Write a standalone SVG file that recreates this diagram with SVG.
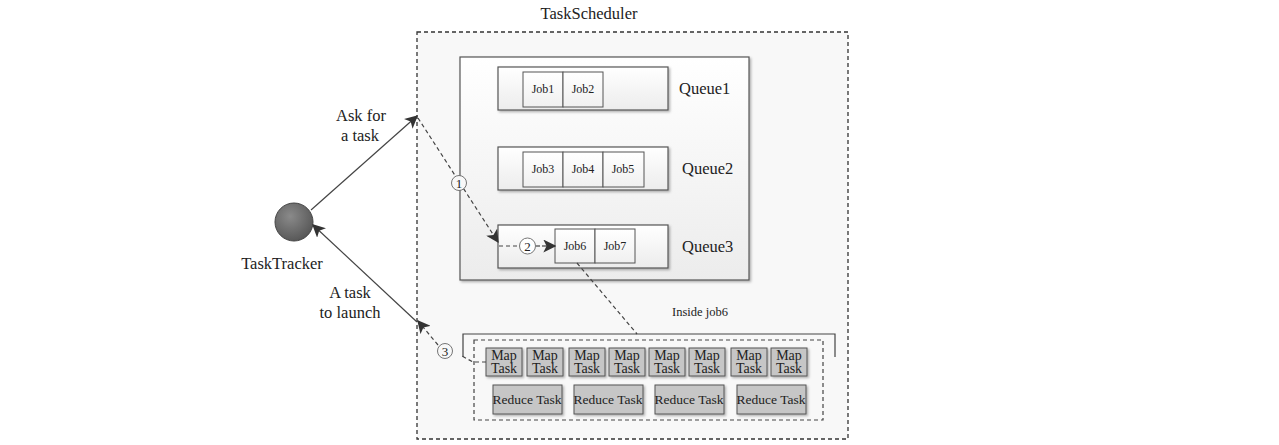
<svg xmlns="http://www.w3.org/2000/svg" width="1279" height="445" viewBox="0 0 1279 445">
<defs>
<linearGradient id="gbox" x1="0" y1="0" x2="0" y2="1">
<stop offset="0" stop-color="#ffffff"/><stop offset="1" stop-color="#ececec"/>
</linearGradient>
<linearGradient id="gjob" x1="0" y1="0" x2="0" y2="1">
<stop offset="0" stop-color="#ffffff"/><stop offset="1" stop-color="#f0f0f0"/>
</linearGradient>
<radialGradient id="gball" cx="0.4" cy="0.35" r="0.7">
<stop offset="0" stop-color="#8a8a8a"/><stop offset="1" stop-color="#555555"/>
</radialGradient>
<marker id="ahs" viewBox="0 0 10 10" refX="9" refY="5" markerWidth="13" markerHeight="13" markerUnits="userSpaceOnUse" orient="auto">
<path d="M0,0 L10,5 L0,10 L2.5,5 z" fill="#333"/>
</marker>
<filter id="sh" x="-10%" y="-10%" width="130%" height="130%">
<feDropShadow dx="1.5" dy="1.5" stdDeviation="0.8" flood-color="#000" flood-opacity="0.3"/>
</filter>
</defs>
<style>
text{font-family:"Liberation Serif","Times New Roman",serif;fill:#222}
.box{fill:url(#gbox);stroke:#555;stroke-width:1.2}
.job{fill:url(#gjob);stroke:#555;stroke-width:1}
.task{fill:#c6c6c6;stroke:#555;stroke-width:1;filter:url(#sh)}
.dash{fill:none;stroke:#444;stroke-width:1.2;stroke-dasharray:4,3}
.solid{fill:none;stroke:#444;stroke-width:1.2}
.jt{font-size:12px;text-anchor:middle}
.qt{font-size:16.5px}
.tt{font-size:14px;text-anchor:middle}
.rt{font-size:13.5px;text-anchor:middle}
.lbl{font-size:16.5px;text-anchor:middle}
.num{font-size:13px;text-anchor:middle}
</style>
<rect width="1279" height="445" fill="#ffffff"/>

<g id="taskscheduler">
<rect x="417" y="32" width="431" height="407" fill="#f8f8f8" stroke="#333" stroke-width="1.3" stroke-dasharray="4,3"/>
<text x="589" y="19" class="lbl">TaskScheduler</text>
</g>

<g id="queues">
<rect x="460" y="57" width="289" height="223" class="box" filter="url(#sh)"/>
</g>

<g id="queue1">
<rect x="498" y="67" width="170" height="43" class="box" filter="url(#sh)"/>
<rect x="523" y="72" width="40" height="35" class="job"/>
<rect x="563" y="72" width="40" height="35" class="job"/>
<text x="543" y="93" class="jt">Job1</text>
<text x="583" y="93" class="jt">Job2</text>
<text x="679" y="94" class="qt">Queue1</text>
</g>

<g id="queue2">
<rect x="498" y="147" width="170" height="43" class="box" filter="url(#sh)"/>
<rect x="523" y="152" width="40" height="35" class="job"/>
<rect x="563" y="152" width="40" height="35" class="job"/>
<rect x="603" y="152" width="41" height="35" class="job"/>
<text x="543" y="173" class="jt">Job3</text>
<text x="583" y="173" class="jt">Job4</text>
<text x="623" y="173" class="jt">Job5</text>
<text x="682" y="174" class="qt">Queue2</text>
</g>

<g id="queue3">
<rect x="498" y="225" width="170" height="43" class="box" filter="url(#sh)"/>
<rect x="555" y="229" width="40" height="34" class="job"/>
<rect x="595" y="229" width="40" height="34" class="job"/>
<text x="575" y="250" class="jt">Job6</text>
<text x="615" y="250" class="jt">Job7</text>
<text x="682" y="252" class="qt">Queue3</text>
</g>

<g id="tasktracker">
<circle cx="294" cy="222" r="19" fill="url(#gball)" stroke="#444" stroke-width="1"/>
<text x="282" y="269" class="lbl">TaskTracker</text>
</g>

<g id="job6-inside">
<text x="700" y="316" font-size="12.5px" text-anchor="middle">Inside job6</text>
<path d="M463,357 V334 H835 V357" class="solid"/>
<rect x="474" y="340" width="349" height="80" class="dash" stroke-width="1.3"/>
<g id="map-tasks">
<rect x="486" y="348" width="36" height="28" class="task"/>
<rect x="527" y="348" width="36" height="28" class="task"/>
<rect x="569" y="348" width="36" height="28" class="task"/>
<rect x="609" y="348" width="36" height="28" class="task"/>
<rect x="649" y="348" width="36" height="28" class="task"/>
<rect x="689" y="348" width="36" height="28" class="task"/>
<rect x="731" y="348" width="36" height="28" class="task"/>
<rect x="771" y="348" width="36" height="28" class="task"/>
<text class="tt"><tspan x="504" y="360">Map</tspan><tspan x="504" y="373">Task</tspan></text>
<text class="tt"><tspan x="545" y="360">Map</tspan><tspan x="545" y="373">Task</tspan></text>
<text class="tt"><tspan x="587" y="360">Map</tspan><tspan x="587" y="373">Task</tspan></text>
<text class="tt"><tspan x="627" y="360">Map</tspan><tspan x="627" y="373">Task</tspan></text>
<text class="tt"><tspan x="667" y="360">Map</tspan><tspan x="667" y="373">Task</tspan></text>
<text class="tt"><tspan x="707" y="360">Map</tspan><tspan x="707" y="373">Task</tspan></text>
<text class="tt"><tspan x="749" y="360">Map</tspan><tspan x="749" y="373">Task</tspan></text>
<text class="tt"><tspan x="789" y="360">Map</tspan><tspan x="789" y="373">Task</tspan></text>
</g>
<g id="reduce-tasks">
<rect x="493" y="385" width="69" height="29" class="task"/>
<rect x="574" y="385" width="69" height="29" class="task"/>
<rect x="655" y="385" width="69" height="29" class="task"/>
<rect x="737" y="385" width="69" height="29" class="task"/>
<text x="527" y="404" class="rt">Reduce Task</text>
<text x="608" y="404" class="rt">Reduce Task</text>
<text x="689" y="404" class="rt">Reduce Task</text>
<text x="771" y="404" class="rt">Reduce Task</text>
</g>
</g>

<g id="connectors">
<line x1="311" y1="210" x2="417" y2="116" class="solid" marker-end="url(#ahs)"/>
<line x1="417" y1="322" x2="313" y2="225" class="solid" marker-end="url(#ahs)"/>
<path d="M418,118 L498,242" class="dash" marker-end="url(#ahs)"/>
<line x1="499" y1="246" x2="519" y2="246" class="dash"/>
<path d="M536,246 H542" class="dash"/>
<line x1="542" y1="246" x2="555" y2="246" class="solid" marker-end="url(#ahs)"/>
<line x1="577" y1="263" x2="637" y2="334" class="dash"/>
<path d="M486,362 L473,362 L462,356" class="dash"/>
<path d="M438,345 L418,321" class="dash" marker-end="url(#ahs)"/>
<g id="step-labels">
<circle cx="459" cy="183" r="7.5" fill="#f8f8f8" stroke="#666" stroke-width="0.9"/>
<text x="459" y="187.5" class="num">1</text>
<circle cx="527.5" cy="246" r="8" fill="#ffffff" stroke="#666" stroke-width="0.9"/>
<text x="527.5" y="250.5" class="num">2</text>
<circle cx="445" cy="351" r="7.5" fill="#f8f8f8" stroke="#666" stroke-width="0.9"/>
<text x="445" y="355.5" class="num">3</text>
</g>
<text class="lbl"><tspan x="361" y="121">Ask for</tspan><tspan x="360" y="141">a task</tspan></text>
<text class="lbl"><tspan x="350" y="298">A task</tspan><tspan x="350" y="318">to launch</tspan></text>
</g>
</svg>
